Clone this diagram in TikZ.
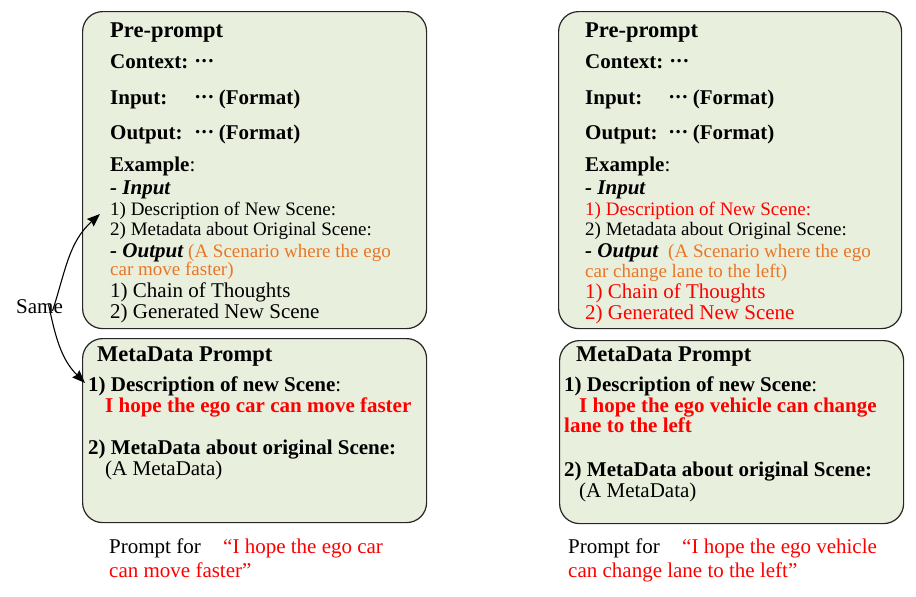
\documentclass[tikz,border=0pt]{standalone}
\usepackage{fontspec}
\setmainfont{Liberation Serif}
\usetikzlibrary{arrows.meta}
\definecolor{boxfill}{RGB}{233,239,221}
\definecolor{orng}{RGB}{233,118,38}
\definecolor{rd}{RGB}{255,0,0}
\newcommand{\hdf}{\fontsize{22.5}{24}\selectfont\bfseries}
\newcommand{\lbf}{\fontsize{21}{23}\selectfont\bfseries}
\newcommand{\smf}{\fontsize{19}{21}\selectfont}
\newcommand{\mdf}{\fontsize{21}{23}\selectfont}
\newcommand{\dts}{\raisebox{0.28em}{\bfseries.\kern1.3pt.\kern1.3pt.}}
\begin{document}
\begin{tikzpicture}[x=1pt,y=-1pt,
  pbox/.style={draw=black!85, line width=1.2pt, fill=boxfill, rounded corners=20pt, anchor=north west, inner sep=0pt},
  tx/.style={anchor=base west, inner sep=0pt},
  arr/.style={line width=1.1pt, -{Stealth[length=13pt,width=10pt,inset=1.5pt]}}]
\useasboundingbox (0,0) rectangle (916,597);
% boxes
\node[pbox, minimum width=344pt, minimum height=317pt] (ltop) at (82,11) {};
\node[pbox, minimum width=344pt, minimum height=184pt] (lbot) at (82,338) {};
\node[pbox, minimum width=343pt, minimum height=317pt] (rtop) at (558,11) {};
\node[pbox, minimum width=344pt, minimum height=183pt] (rbot) at (559,340) {};
% left top text
\node[tx, font=\hdf] (l1) at (110,37) {Pre-prompt};
\node[tx, font=\lbf] (l2) at (110,68) {Context:};
\node[tx, font=\lbf] (l2b) at (195,68) {\dts};
\node[tx, font=\lbf] (l3) at (110,104) {Input:};
\node[tx, font=\lbf] (l3b) at (195,104) {\dts\ (Format)};
\node[tx, font=\lbf] (l4) at (110,139) {Output:};
\node[tx, font=\lbf] (l4b) at (195,139) {\dts\ (Format)};
\node[tx, font=\lbf] (l5) at (110,171) {Example\mdseries:};
\node[tx, font=\lbf\itshape] (l6) at (110,194) {- Input};
\node[tx, font=\smf] (l7) at (110,215) {1) Description of New Scene:};
\node[tx, font=\smf] (l8) at (110,235) {2) Metadata about Original Scene:};
\node[tx, font=\lbf\itshape] (l9) at (110,257) {- Output};
\node[tx, font=\smf, text=orng] (l9b) at (188,257) {(A Scenario where the ego};
\node[tx, font=\smf, text=orng] (l10) at (110,275) {car move faster)};
\node[tx, font=\mdf] (l11) at (110,297) {1) Chain of Thoughts};
\node[tx, font=\mdf] (l12) at (110,318) {2) Generated New Scene};
% right top text
\node[tx, font=\hdf] (r1) at (585,37) {Pre-prompt};
\node[tx, font=\lbf] (r2) at (585,68) {Context:};
\node[tx, font=\lbf] (r2b) at (670,68) {\dts};
\node[tx, font=\lbf] (r3) at (585,104) {Input:};
\node[tx, font=\lbf] (r3b) at (669,104) {\dts\ (Format)};
\node[tx, font=\lbf] (r4) at (585,139) {Output:};
\node[tx, font=\lbf] (r4b) at (669,139) {\dts\ (Format)};
\node[tx, font=\lbf] (r5) at (585,171) {Example\mdseries:};
\node[tx, font=\lbf\itshape] (r6) at (585,194) {- Input};
\node[tx, font=\smf, text=rd] (r7) at (585,215) {1) Description of New Scene:};
\node[tx, font=\smf] (r8) at (585,235) {2) Metadata about Original Scene:};
\node[tx, font=\lbf\itshape] (r9) at (585,257) {- Output};
\node[tx, font=\smf, text=orng] (r9b) at (668,257) {(A Scenario where the ego};
\node[tx, font=\smf, text=orng] (r10) at (585,277) {car change lane to the left)};
\node[tx, font=\mdf, text=rd] (r11) at (585,298) {1) Chain of Thoughts};
\node[tx, font=\mdf, text=rd] (r12) at (585,319) {2) Generated New Scene};
% left bottom text
\node[tx, font=\hdf] (lm1) at (97,361) {MetaData Prompt};
\node[tx, font=\lbf] (lm2) at (88,391) {1) Description of new Scene\mdseries:};
\node[tx, font=\lbf, text=rd] (lm3) at (105,412) {I hope the ego car can move faster};
\node[tx, font=\lbf] (lm4) at (88,454) {2) MetaData about original Scene:};
\node[tx, font=\mdf] (lm5) at (105,475) {(A MetaData)};
% right bottom text
\node[tx, font=\hdf] (rm1) at (576,361) {MetaData Prompt};
\node[tx, font=\lbf] (rm2) at (564,391) {1) Description of new Scene\mdseries:};
\node[tx, font=\lbf, text=rd] (rm3) at (579,412) {I hope the ego vehicle can change};
\node[tx, font=\lbf, text=rd] (rm3b) at (564,432) {lane to the left};
\node[tx, font=\lbf] (rm4) at (564,476) {2) MetaData about original Scene:};
\node[tx, font=\mdf] (rm5) at (579,497) {(A MetaData)};
% captions
\node[tx, font=\mdf] (lc1) at (109,553) {Prompt for};
\node[tx, font=\mdf, text=rd] (lc2) at (223,553) {“I hope the ego car};
\node[tx, font=\mdf, text=rd] (lc3) at (109,577) {can move faster”};
\node[tx, font=\mdf] (rc1) at (568,553) {Prompt for};
\node[tx, font=\mdf, text=rd] (rc2) at (682,553) {“I hope the ego vehicle};
\node[tx, font=\mdf, text=rd] (rc3) at (568,577) {can change lane to the left”};
% same arrows
\node[tx, font=\fontsize{21}{23}\selectfont] (same) at (16,313) {Same};
\coordinate (tipA) at (100,214);
\coordinate (tipB) at (85,383);
\draw[arr] ([xshift=13pt,yshift=-12pt]same.north) to[out=72,in=222] (tipA);
\draw[arr] ([xshift=9pt,yshift=9pt]same.south) to[out=-78,in=135] (tipB);
\end{tikzpicture}
\end{document}
